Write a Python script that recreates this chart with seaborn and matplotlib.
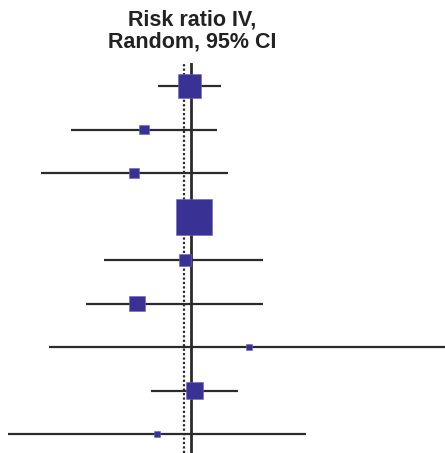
import matplotlib
matplotlib.use("Agg")
import matplotlib.pyplot as plt
import seaborn as sns
import numpy as np
import pandas as pd

# Data (risk ratios, 95% CI, weights in %)
studies = ["S1", "S2", "S3", "S4", "S5", "S6", "S7", "S8", "S9"]
rr = [0.99, 0.49, 0.417, 1.055, 0.919, 0.44, 2.44, 1.066, 0.598]
ci_low = [0.607, 0.16, 0.101, 0.86, 0.265, 0.201, 0.114, 0.545, 0.0607]
ci_high = [1.597, 1.50, 1.778, 1.28, 3.04, 3.04, 80.0, 2.07, 5.89]
weight = [19.7, 3.7, 3.7, 48.1, 4.5, 8.4, 1.4, 10.7, 1.4]
pooled_rr = 0.912
title = "Risk ratio IV,\nRandom, 95% CI"

df = pd.DataFrame({"study": studies, "rr": rr, "lo": ci_low, "hi": ci_high, "w": weight})
df["row"] = np.arange(len(df))

sns.set_theme(style="white")
plt.rcParams["font.family"] = ["Liberation Sans", "DejaVu Sans"]

W, H = 445, 453
fig = plt.figure(figsize=(W / 100, H / 100), dpi=100)
ax_top = 63
ax = fig.add_axes([0, 0, 1, (H - ax_top) / H])

k = 150.0  # px per decade
x1 = 190.5
ax.set_xscale("log")
ax.set_xlim(10 ** (-x1 / k), 10 ** ((W - x1) / k))
sp = 43.5
ax.set_ylim(8 + (390 - 371) / sp, -23 / sp)

ax.axvline(1.0, color="#2b2b2b", lw=2.0, zorder=1)
ax.axvline(pooled_rr, color="#2b2b2b", lw=1.6, ls=(0, (1, 1.0)), zorder=1)

ax.hlines(df["row"], df["lo"], df["hi"], color="#2b2b2b", lw=1.6, zorder=2)

# marker size: area proportional to weight (side in px -> points)
side_px = 36 * np.sqrt(df["w"] / df["w"].max())
side_pt = side_px * 72 / 100
sns.scatterplot(data=df, x="rr", y="row", ax=ax, marker="s", color="#3a3194",
                s=side_pt ** 2, edgecolor="#6a62c0", linewidth=0.4, zorder=3, legend=False)

ax.set_axis_off()
fig.text(192 / W, 1 - 31 / H, title, ha="center", va="center", fontsize=15.5,
         fontweight="bold", color="#222222", linespacing=1.1)

fig.savefig("out.png", dpi=100)
